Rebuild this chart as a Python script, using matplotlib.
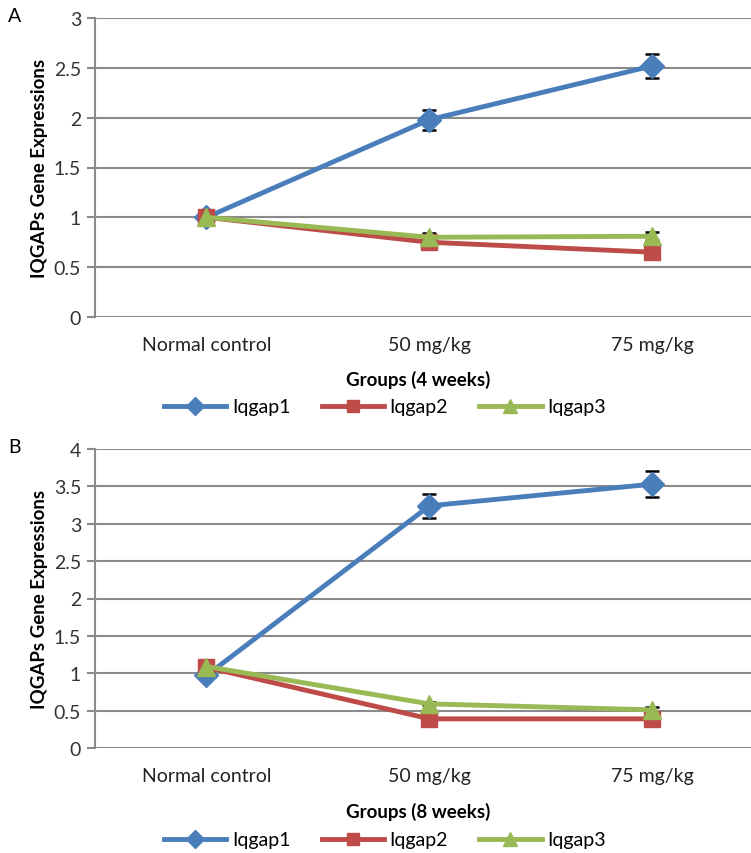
import matplotlib
matplotlib.use("Agg")
import matplotlib.pyplot as plt
from matplotlib.lines import Line2D

plt.rcParams['font.family'] = ['Lato', 'DejaVu Sans']

categories = ["Normal control", "50 mg/kg", "75 mg/kg"]
series_names = ["Iqgap1", "Iqgap2", "Iqgap3"]

# Panel A (4 weeks)
a_iqgap1 = [1.00, 1.98, 2.52]
a_iqgap1_err = [0.01, 0.10, 0.12]
a_iqgap2 = [1.00, 0.75, 0.65]
a_iqgap2_err = [0.01, 0.02, 0.02]
a_iqgap3 = [1.00, 0.80, 0.81]
a_iqgap3_err = [0.01, 0.04, 0.04]

# Panel B (8 weeks)
b_iqgap1 = [0.97, 3.24, 3.53]
b_iqgap1_err = [0.01, 0.16, 0.17]
b_iqgap2 = [1.08, 0.39, 0.39]
b_iqgap2_err = [0.01, 0.02, 0.02]
b_iqgap3 = [1.09, 0.59, 0.51]
b_iqgap3_err = [0.01, 0.02, 0.04]

a_yticks = [0, 0.5, 1, 1.5, 2, 2.5, 3]
b_yticks = [0, 0.5, 1, 1.5, 2, 2.5, 3, 3.5, 4]

colors = ["#4A7EBB", "#BE4B48", "#98B954"]
markers = ["D", "s", "^"]
msizes = [12, 11, 13]

W, H = 751, 854
fig = plt.figure(figsize=(W / 100, H / 100), dpi=100)


def fpos(left, top, right, bottom):
    return [left / W, 1 - bottom / H, (right - left) / W, (bottom - top) / H]


def panel(ax, data, errs, yticks, xlabel, letter, legend_y, xlabel_y):
    x = list(range(len(categories)))
    handles = []
    for vals, err, c, m, ms, name in zip(data, errs, colors, markers, msizes, series_names):
        ax.errorbar(x, vals, yerr=err, fmt='none', ecolor='black', elinewidth=1.5,
                    capsize=5, capthick=1.8, zorder=2)
        ax.plot(x, vals, color=c, lw=3.5, marker=m, ms=ms, mec=c, mfc=c, zorder=3)
        handles.append(Line2D([0], [0], color=c, lw=3.5, marker=m, ms=ms * 0.75,
                              mec=c, mfc=c, label=name))
    ax.set_xlim(-0.5, 2.5)
    ax.set_ylim(yticks[0], yticks[-1])
    ax.set_yticks(yticks)
    ax.set_yticklabels([f"{t:g}" for t in yticks], fontsize=14, color="#333333")
    ax.set_xticks(x)
    ax.set_xticklabels(categories, fontsize=14, color="#222222")
    ax.grid(axis='y', color="#8a8a8a", lw=1.5)
    ax.set_axisbelow(True)
    for s in ['top', 'right', 'bottom']:
        ax.spines[s].set_visible(False)
    ax.spines['left'].set_color("#8a8a8a")
    ax.spines['left'].set_linewidth(1.5)
    ax.tick_params(axis='y', length=6, width=1.5, color="#8a8a8a", pad=4)
    ax.tick_params(axis='x', length=0, pad=14)
    ax.set_ylabel("IQGAPs Gene Expressions", fontsize=13.5, fontweight='bold', labelpad=4)
    fig.text(418 / W, 1 - xlabel_y / H, xlabel, fontsize=13.5, fontweight='bold',
             ha='center', va='center')
    fig.legend(handles=handles, loc='center', bbox_to_anchor=(385 / W, 1 - legend_y / H),
               ncol=3, frameon=False, fontsize=14, handlelength=3.2,
               columnspacing=1.6, handletextpad=0.3)
    fig.text(8 / W, ax.get_position().y1 + 2 / H, letter, fontsize=14, ha='left', va='center')


axA = fig.add_axes(fpos(95, 19, 764, 318))
panel(axA, [a_iqgap1, a_iqgap2, a_iqgap3], [a_iqgap1_err, a_iqgap2_err, a_iqgap3_err],
      a_yticks, "Groups (4 weeks)", "A", 408, 380)

axB = fig.add_axes(fpos(95, 450, 764, 749))
panel(axB, [b_iqgap1, b_iqgap2, b_iqgap3], [b_iqgap1_err, b_iqgap2_err, b_iqgap3_err],
      b_yticks, "Groups (8 weeks)", "B", 841, 812)

fig.savefig("out.png", dpi=100, facecolor="white")
